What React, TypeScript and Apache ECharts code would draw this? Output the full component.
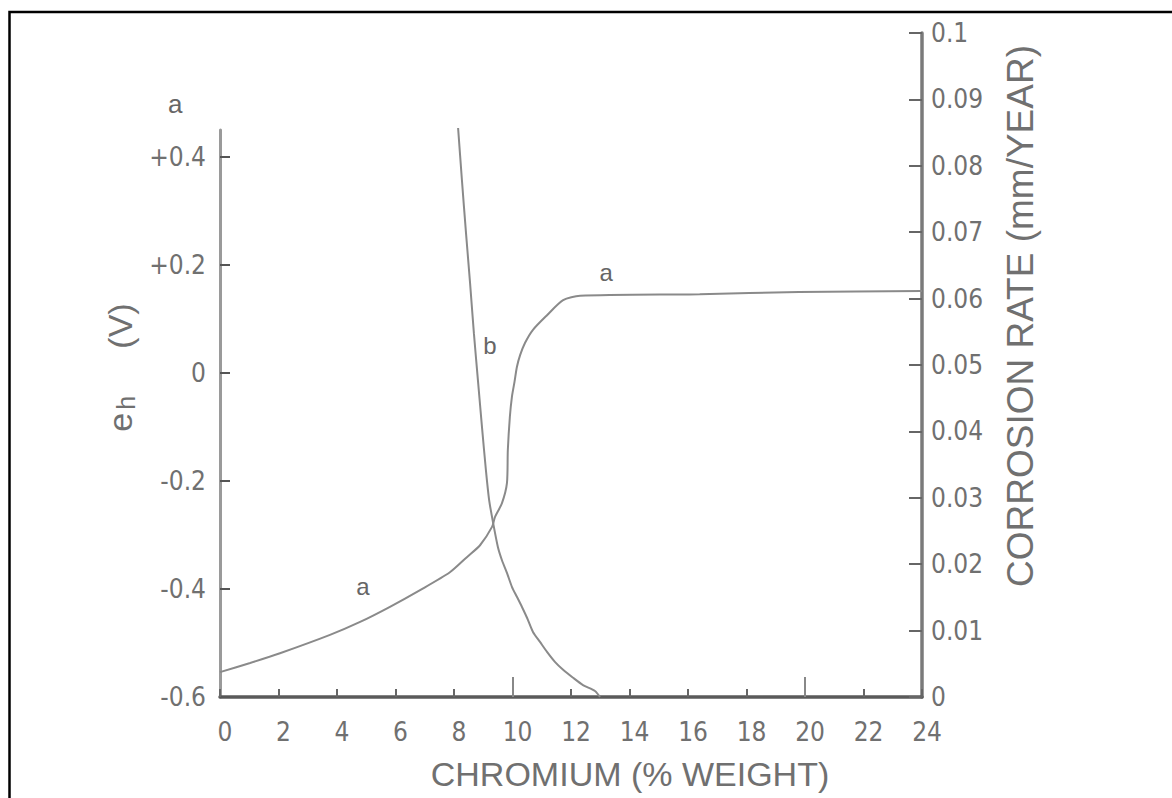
import React, { useEffect, useRef } from "react";
import * as echarts from "echarts";

// Curve a: electrode potential e_h (V) vs chromium content (% weight)
const chromiumA = [0, 1.03, 2.05, 3.76, 4.79, 5.81, 6.84, 7.86, 8.44, 8.89, 9.3, 9.4, 9.64, 9.81, 9.84, 9.91, 9.98, 10.07, 10.15, 10.26, 10.43, 10.7, 11.18, 11.73, 12.31, 16.4, 19.8, 24];
const potentialA = [-0.554, -0.537, -0.519, -0.485, -0.461, -0.433, -0.402, -0.369, -0.341, -0.319, -0.285, -0.267, -0.241, -0.204, -0.143, -0.081, -0.044, -0.016, 0.011, 0.033, 0.056, 0.08, 0.107, 0.135, 0.143, 0.146, 0.15, 0.152];

// Curve b: corrosion rate (mm/year) vs chromium content (% weight)
const chromiumB = [8.14, 8.27, 8.41, 8.55, 8.68, 8.82, 8.96, 9.09, 9.2, 9.33, 9.5, 9.64, 9.81, 9.98, 10.15, 10.32, 10.5, 10.7, 10.94, 11.18, 11.45, 11.73, 12.07, 12.41, 12.82, 12.99];
const corrosionB = [0.0857, 0.0779, 0.0699, 0.0623, 0.0548, 0.0476, 0.0405, 0.0342, 0.0297, 0.0264, 0.0226, 0.0206, 0.0187, 0.0166, 0.0151, 0.0136, 0.0119, 0.0098, 0.0083, 0.0068, 0.0053, 0.0041, 0.0029, 0.0018, 0.0009, 0];

// Tick values
const chromiumTicks = [0, 2, 4, 6, 8, 10, 12, 14, 16, 18, 20, 22, 24];
const chromiumMajorTicks = [10, 20];
const potentialTicks = [-0.6, -0.4, -0.2, 0, 0.2, 0.4];
const corrosionTicks = [0, 0.01, 0.02, 0.03, 0.04, 0.05, 0.06, 0.07, 0.08, 0.09, 0.1];

// Curve annotations [x, y, text]
const labelsA: [number, number, string][] = [
  [4.89, -0.396, "a"],
  [13.2, 0.187, "a"],
];
const labelsB: [number, number, string][] = [[9.23, 0.053, "b"]];

const FONT = "'Liberation Sans Narrow', 'DejaVu Sans Condensed', 'Liberation Sans', sans-serif";
const WIDE = "'Liberation Sans', 'DejaVu Sans', sans-serif";
const GREY = "#707070";
const LINE = "#8a8a8a";

export default function App() {
  const ref = useRef<HTMLDivElement>(null);

  useEffect(() => {
    if (!ref.current) return;
    const chart = echarts.init(ref.current, undefined, { renderer: "svg" });

    const seriesA = chromiumA.map((x, i) => [x, potentialA[i]]);
    const seriesB = chromiumB.map((x, i) => [x, corrosionB[i]]);

    const fmtPot = (v: number) => {
      if (Math.abs(v) < 1e-9) return "0";
      return v > 0 ? "+" + v.toFixed(1) : v.toFixed(1);
    };
    const fmtCor = (v: number) => {
      if (Math.abs(v) < 1e-9) return "0";
      if (Math.abs(v - 0.1) < 1e-9) return "0.1";
      return v.toFixed(2);
    };

    const markLabels = (arr: [number, number, string][]) => ({
      symbol: "circle",
      symbolSize: 0,
      silent: true,
      label: {
        show: true,
        position: "inside",
        formatter: (p: any) => p.name,
        fontFamily: WIDE,
        fontSize: 24,
        color: "#666",
      },
      data: arr.map(([x, y, t]) => ({ name: t, coord: [x, y] })),
    });

    chart.setOption({
      animation: false,
      backgroundColor: "#ffffff",
      title: {
        text: "a",
        left: 163,
        top: 86,
        textStyle: { fontFamily: WIDE, fontSize: 26, fontWeight: "normal", color: "#666" },
      },
      graphic: [
        {
          type: "rect",
          shape: { x: 9.5, y: 12, width: 1300, height: 1000 },
          style: { fill: "none", stroke: "#000", lineWidth: 2.5 },
          silent: true,
        },
      ],
      grid: [
        { left: 220, right: 250, top: 130, bottom: 101 },
        { left: 220, right: 250, top: 33, bottom: 101 },
      ],
      xAxis: [
        {
          type: "value",
          gridIndex: 0,
          min: 0,
          max: 24,
          interval: 2,
          name: "CHROMIUM (% WEIGHT)",
          nameLocation: "middle",
          nameGap: 60,
          nameTextStyle: { fontFamily: WIDE, fontSize: 34, color: GREY, padding: [0, 0, 0, 118] },
          axisLine: { show: true, onZero: false, lineStyle: { color: "#5a5a5a", width: 3.5 } },
          axisTick: {
            show: true,
            inside: true,
            length: 8,
            customValues: chromiumTicks,
            lineStyle: { color: "#666", width: 2 },
          },
          axisLabel: {
            customValues: chromiumTicks,
            fontFamily: FONT,
            fontSize: 26,
            color: GREY,
            margin: 22,
            padding: [0, 0, 0, 10],
          },
          splitLine: { show: false },
        },
        {
          type: "value",
          gridIndex: 1,
          min: 0,
          max: 24,
          interval: 2,
          axisLine: { show: false, onZero: false },
          axisTick: {
            show: true,
            inside: true,
            length: 20,
            customValues: chromiumMajorTicks,
            lineStyle: { color: "#888", width: 2 },
          },
          axisLabel: { show: false },
          splitLine: { show: false },
        },
      ],
      yAxis: [
        {
          type: "value",
          gridIndex: 0,
          position: "left",
          min: -0.6,
          max: 0.45,
          interval: 0.2,
          name: "e{h|h}     (V)",
          nameLocation: "middle",
          nameRotate: 90,
          nameGap: 78,
          nameTextStyle: {
            fontFamily: WIDE,
            fontSize: 34,
            color: GREY,
            padding: [0, 0, 0, 92],
            rich: {
              h: { fontFamily: WIDE, fontSize: 25, color: GREY, verticalAlign: "bottom", padding: [12, 0, 0, 3] },
            },
          },
          axisLine: { show: true, onZero: false, lineStyle: { color: "#9a9a9a", width: 3 } },
          axisTick: {
            show: true,
            inside: true,
            length: 10,
            customValues: potentialTicks,
            lineStyle: { color: "#555", width: 2 },
          },
          axisLabel: {
            customValues: potentialTicks,
            formatter: fmtPot,
            fontFamily: FONT,
            fontSize: 26,
            color: GREY,
            margin: 14,
          },
          splitLine: { show: false },
        },
        {
          type: "value",
          gridIndex: 1,
          position: "right",
          min: 0,
          max: 0.1,
          interval: 0.01,
          name: "CORROSION RATE (mm/YEAR)",
          nameLocation: "middle",
          nameRotate: 90,
          nameGap: 80,
          nameTextStyle: { fontFamily: WIDE, fontSize: 37, color: GREY, padding: [0, 0, 0, 98] },
          axisLine: { show: true, onZero: false, lineStyle: { color: "#7a7a7a", width: 3.5 } },
          axisTick: {
            show: true,
            inside: true,
            length: 13,
            customValues: corrosionTicks,
            lineStyle: { color: "#666", width: 2 },
          },
          axisLabel: {
            customValues: corrosionTicks,
            formatter: fmtCor,
            fontFamily: FONT,
            fontSize: 26,
            color: GREY,
            margin: 9,
          },
          splitLine: { show: false },
        },
      ],
      series: [
        {
          name: "a",
          type: "line",
          xAxisIndex: 0,
          yAxisIndex: 0,
          data: seriesA,
          showSymbol: false,
          smooth: 0.25,
          lineStyle: { color: LINE, width: 2 },
          markPoint: markLabels(labelsA),
        },
        {
          name: "b",
          type: "line",
          xAxisIndex: 1,
          yAxisIndex: 1,
          data: seriesB,
          showSymbol: false,
          smooth: 0.25,
          lineStyle: { color: LINE, width: 2 },
          markPoint: markLabels(labelsB),
        },
      ],
    });

    return () => chart.dispose();
  }, []);

  return (
    <div
      ref={ref}
      style={{ position: "absolute", left: 0, top: 0, width: 1172, height: 798, background: "#fff" }}
    />
  );
}
